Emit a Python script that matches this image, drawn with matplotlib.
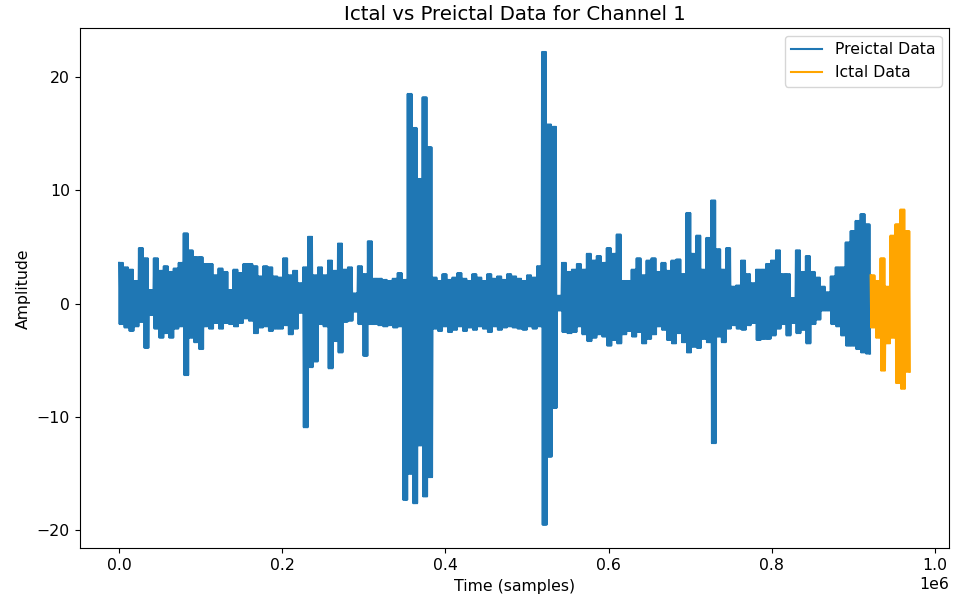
"""
Ictal vs preictal EEG trace for channel 1.
The dense signal is rebuilt from the upper / lower excursions read off
the reference picture, one pair per bin of STEP samples.
"""

import numpy as np
import matplotlib
matplotlib.use("Agg")
import matplotlib.pyplot as plt

STEP = 6100   # samples per bin
SWINGS = 4    # oscillations drawn inside each bin

# upper / lower excursion of each preictal bin
preictal_upper = [
    3.6, 3.2, 3.0, 2.0, 4.9, 4.0, 1.2, 4.0, 2.9, 3.3,
    2.8, 3.1, 3.6, 6.2, 4.7, 4.1, 4.1, 3.5, 3.5, 2.5,
    3.1, 2.8, 1.2, 3.0, 2.7, 3.5, 3.5, 3.3, 2.4, 3.3,
    3.2, 2.4, 2.3, 4.0, 2.5, 2.9, 1.8, 3.2, 5.9, 2.5,
    3.2, 2.5, 3.8, 2.9, 5.3, 3.0, 3.2, 0.9, 3.3, 2.6,
    5.5, 2.2, 2.2, 2.1, 2.0, 2.2, 2.7, 2.1, 18.5, 15.5,
    11.0, 18.2, 13.8, 2.3, 2.0, 2.6, 2.1, 2.3, 2.7, 2.2,
    2.0, 2.6, 2.3, 2.0, 2.6, 2.2, 2.4, 2.1, 2.6, 2.4,
    2.2, 2.0, 2.5, 2.3, 3.3, 22.2, 15.8, 15.6, 0.7, 3.6,
    2.8, 3.0, 3.5, 3.0, 4.4, 3.8, 4.2, 3.6, 4.9, 4.4,
    6.1, 2.0, 2.0, 3.0, 4.0, 2.5, 3.8, 4.0, 2.8, 3.6,
    2.9, 3.8, 3.9, 2.6, 8.0, 4.4, 6.0, 3.0, 5.8, 9.1,
    4.8, 3.0, 4.9, 1.5, 1.6, 3.8, 2.6, 1.8, 3.0, 3.0,
    3.5, 3.8, 4.7, 2.6, 2.6, 0.5, 4.7, 2.8, 4.2, 2.8,
    2.3, 1.5, 1.0, 2.4, 3.2, 3.2, 5.4, 6.4, 7.3, 7.9,
    7.0,
]
preictal_lower = [
    -1.8, -2.1, -2.4, -2.0, -1.6, -3.9, -1.0, -2.2, -3.0, -2.6,
    -3.0, -2.2, -2.0, -6.3, -3.0, -3.4, -4.0, -2.0, -2.2, -1.7,
    -2.2, -1.7, -1.8, -2.0, -1.7, -1.3, -1.5, -2.6, -2.1, -2.0,
    -2.4, -2.2, -2.2, -1.9, -2.7, -2.2, -0.8, -10.9, -5.6, -5.1,
    -1.8, -2.0, -5.7, -3.3, -4.3, -1.6, -1.5, -0.7, -1.8, -4.6,
    -1.8, -1.8, -1.9, -2.0, -1.9, -2.1, -2.0, -17.3, -15.0, -17.6,
    -12.5, -17.0, -15.3, -2.2, -2.4, -2.0, -2.5, -2.3, -2.0, -2.4,
    -2.1, -2.3, -2.0, -2.2, -2.5, -2.0, -2.3, -2.1, -2.0, -2.1,
    -2.2, -2.3, -2.0, -2.2, -2.0, -19.5, -13.5, -9.2, -0.6, -2.5,
    -2.6, -2.5, -2.0, -2.7, -3.3, -3.0, -2.7, -2.9, -3.7, -3.2,
    -3.5, -2.7, -2.4, -2.9, -2.5, -3.5, -3.1, -2.7, -2.0, -2.3,
    -3.2, -3.5, -2.6, -3.4, -4.3, -3.8, -3.9, -3.1, -3.4, -12.3,
    -2.9, -3.4, -2.2, -1.9, -2.2, -2.3, -1.9, -1.7, -3.2, -3.1,
    -3.1, -2.8, -2.2, -1.8, -2.8, -1.7, -2.6, -2.3, -3.5, -1.8,
    -1.4, -0.6, -0.6, -1.8, -2.0, -2.8, -3.7, -3.7, -4.0, -4.3,
    -4.4,
]

# upper / lower excursion of each ictal bin
ictal_upper = [2.5, 2.0, 4.0, 1.5, 6.0, 7.0, 8.3, 6.4]
ictal_lower = [-2.1, -3.0, -5.9, -3.5, -3.0, -7.0, -7.5, -6.0]


def trace(upper, lower, first_bin=0):
    """Swing between each bin's peak and trough; time in samples."""
    n = len(upper) * SWINGS
    sub = STEP / SWINGS
    start = first_bin * STEP
    t = np.empty(2 * n)
    y = np.empty(2 * n)
    t[0::2] = start + np.arange(n) * sub
    t[1::2] = start + (np.arange(n) + 0.5) * sub
    y[0::2] = np.repeat(upper, SWINGS)
    y[1::2] = np.repeat(lower, SWINGS)
    return t, y


t_pre, y_pre = trace(preictal_upper, preictal_lower)
t_ict, y_ict = trace(ictal_upper, ictal_lower, first_bin=len(preictal_upper))

plt.rcParams["font.size"] = 11.3

fig, ax = plt.subplots(figsize=(9.58, 6.02), dpi=100)
fig.subplots_adjust(left=0.083, right=0.991, bottom=0.089, top=0.953)

ax.plot(t_pre, y_pre, color="#1f77b4", label="Preictal Data")
ax.plot(t_ict, y_ict, color="orange", label="Ictal Data")

ax.set_title("Ictal vs Preictal Data for Channel 1", fontsize=14.2)
ax.set_xlabel("Time (samples)")
ax.set_ylabel("Amplitude")
ax.legend(loc="upper right")

fig.savefig("out.png")
plt.close(fig)
